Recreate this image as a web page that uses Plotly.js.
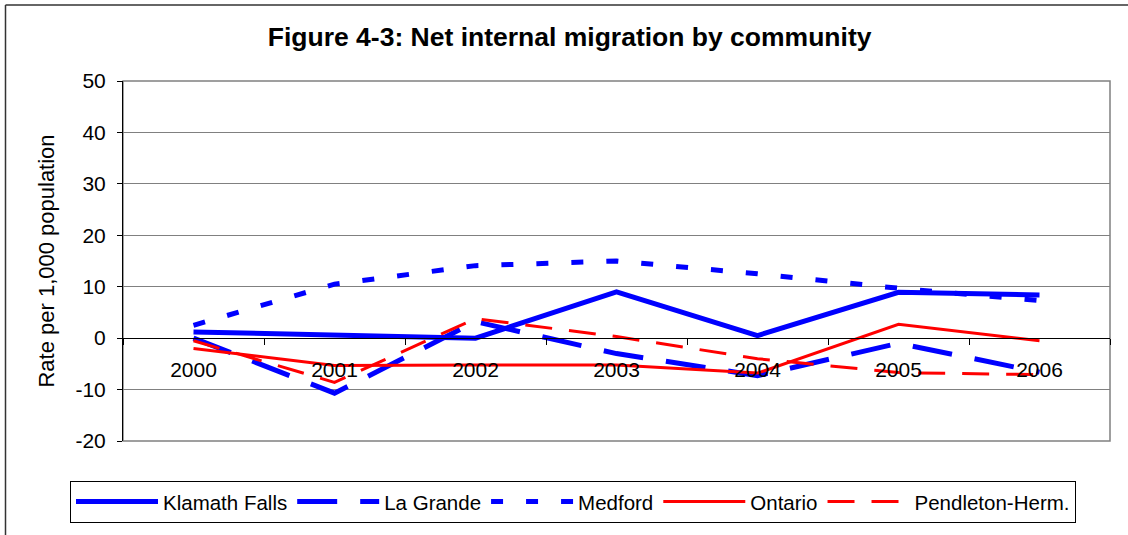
<!DOCTYPE html>
<html>
<head>
<meta charset="utf-8">
<script src="https://cdn.plot.ly/plotly-3.0.1.min.js"></script>
<style>
  html, body { margin: 0; padding: 0; background: #ffffff; }
  #chart { width: 1128px; height: 535px; }
</style>
</head>
<body>
<div id="chart"></div>
<script>
// ---- data ----
var categories = ['2000', '2001', '2002', '2003', '2004', '2005', '2006'];
var seriesNames = ['Klamath Falls', 'La Grande', 'Medford', 'Ontario', 'Pendleton-Herm.'];
var klamathFalls = [1.2, 0.5, 0.0, 9.0, 0.5, 8.9, 8.4];
var laGrande = [0.0, -10.7, 3.2, -3.0, -7.3, -1.0, -6.6];
var medford = [2.5, 10.5, 14.1, 15.0, 12.5, 9.7, 7.3];
var ontario = [-2.0, -5.3, -5.2, -5.2, -6.8, 2.7, -0.5];
var pendleton = [-0.5, -8.6, 3.8, 0.3, -4.0, -6.7, -7.1];
var yTickVals = [-20, -10, 0, 10, 20, 30, 40, 50];
var yTickText = ['-20', '-10', '0', '10', '20', '30', '40', '50'];

var FONT = 'Liberation Sans, Arial, sans-serif';

function mk(name, y, color, width, dash) {
  return {
    type: 'scatter', mode: 'lines', name: name,
    x: categories, y: y,
    line: { color: color, width: width, dash: dash },
    hoverinfo: 'skip'
  };
}

var traces = [
  mk(seriesNames[0], klamathFalls, '#0000FF', 5, 'solid'),
  mk(seriesNames[1], laGrande, '#0000FF', 5, '40px,23px'),
  mk(seriesNames[2], medford, '#0000FF', 5, '12px,23px'),
  mk(seriesNames[3], ontario, '#FF0000', 3, 'solid'),
  mk(seriesNames[4], pendleton, '#FF0000', 3, '27px,17px')
];

function px(v) { return (v - 123) / 987; }
function py(v) { return (443 - v) / 362; }

var layout = {
  width: 1128, height: 535,
  margin: { l: 123, r: 18, t: 81, b: 92, pad: 0 },
  paper_bgcolor: '#ffffff', plot_bgcolor: '#ffffff',
  font: { family: FONT, size: 21, color: '#000000' },
  showlegend: true,
  title: {
    text: '<b>Figure 4-3: Net internal migration by community</b>',
    font: { family: FONT, size: 26.5, color: '#000000' },
    x: 0.505, xref: 'container', xanchor: 'center',
    y: 0.931, yref: 'container', yanchor: 'middle'
  },
  xaxis: {
    type: 'category',
    range: [-0.5, 6.5],
    anchor: 'free', position: 20 / 70,
    showgrid: false, zeroline: false,
    showline: true, linecolor: '#000000', linewidth: 1,
    ticks: 'outside', tickson: 'boundaries', ticklen: 6, tickcolor: '#000000', tickwidth: 1,
    ticklabelstandoff: 13,
    tickfont: { family: FONT, size: 21, color: '#000000' },
    fixedrange: true
  },
  yaxis: {
    range: [-20, 50],
    tickmode: 'array', tickvals: yTickVals, ticktext: yTickText,
    showgrid: true, gridcolor: '#808080', gridwidth: 1,
    zeroline: false,
    showline: true, linecolor: '#000000', linewidth: 1,
    ticks: 'outside', ticklen: 5, tickcolor: '#000000',
    ticklabelstandoff: 7,
    tickfont: { family: FONT, size: 21, color: '#000000' },
    title: { text: 'Rate per 1,000 population', font: { family: FONT, size: 22, color: '#000000' }, standoff: 14 },
    automargin: false,
    fixedrange: true
  },
  legend: {
    orientation: 'h',
    x: px(70), xanchor: 'left',
    y: py(483), yanchor: 'top',
    bordercolor: '#000000', borderwidth: 1,
    bgcolor: '#ffffff',
    itemwidth: 82,
    font: { family: FONT, size: 20.5, color: '#000000' },
    traceorder: 'normal'
  },
  shapes: [
    // plot area border in gray
    { type: 'rect', xref: 'paper', yref: 'paper', x0: 0, x1: 1, y0: 0, y1: 1,
      line: { color: '#808080', width: 1.5 }, layer: 'below' },
    // outer chart frame: left and top edges
    { type: 'line', xref: 'paper', yref: 'paper', x0: px(5.5), x1: px(5.5), y0: py(4.5), y1: py(540),
      line: { color: '#333333', width: 1.5 } },
    { type: 'line', xref: 'paper', yref: 'paper', x0: px(5.5), x1: px(1135), y0: py(4.5), y1: py(4.5),
      line: { color: '#333333', width: 1.5 } }
  ]
};

Plotly.newPlot('chart', traces, layout, { displayModeBar: false, staticPlot: true });
</script>
</body>
</html>
